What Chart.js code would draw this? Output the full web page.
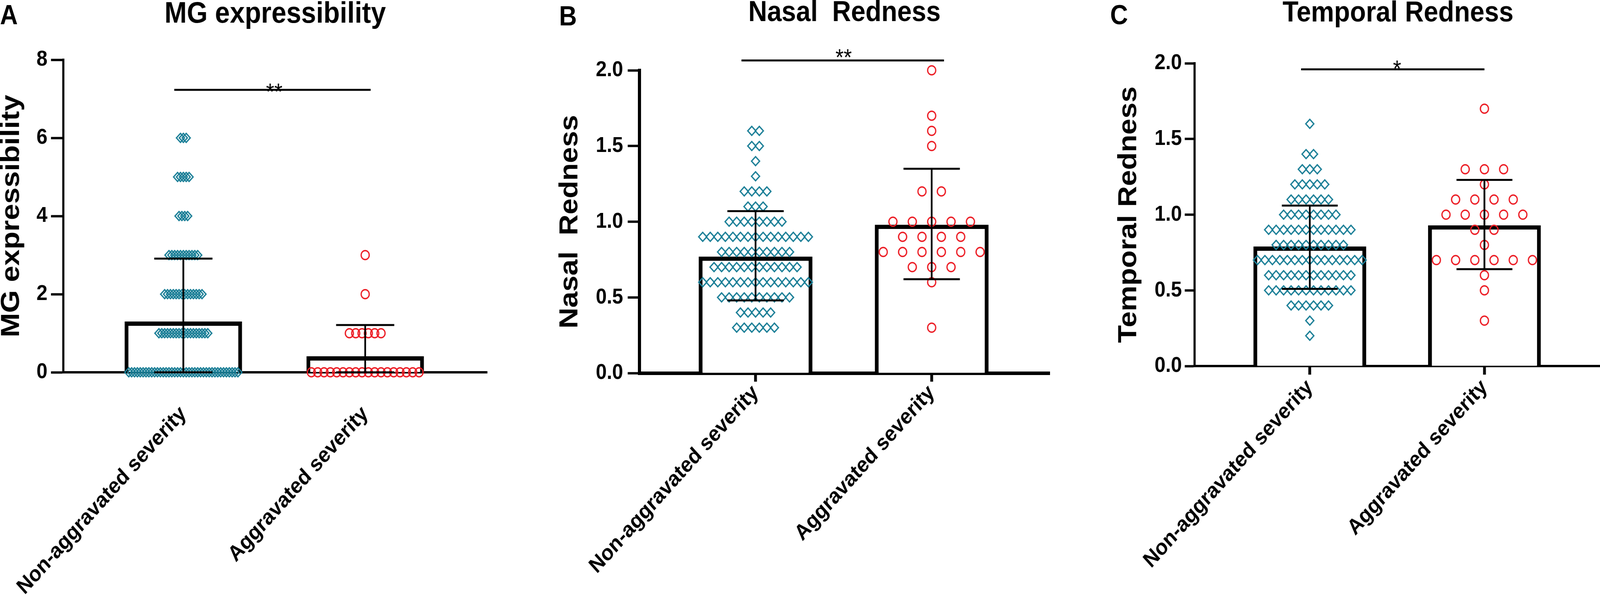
<!DOCTYPE html>
<html>
<head>
<meta charset="utf-8">
<title>Severity comparison</title>
<script src="https://cdn.jsdelivr.net/npm/chart.js@4.4.1/dist/chart.umd.min.js"></script>
<style>
  html, body { margin: 0; padding: 0; background: #fff; overflow: hidden; }
  #page { position: relative; width: 4550px; height: 1541px; transform-origin: 0 0; }
  #page canvas { position: absolute; top: 0; }
  .letter { position: absolute; font: bold 70px Arial, "Liberation Sans", sans-serif; line-height: 70px; color: #000; }
</style>
</head>
<body>
<div id="page">
  <div class="letter" style="left:0px;top:3px">A</div>
  <div class="letter" style="left:1590px;top:6px">B</div>
  <div class="letter" style="left:3157px;top:3px">C</div>
  <canvas id="chartA" width="1500" height="1541" style="left:0px;width:1500px;height:1541px"></canvas>
  <canvas id="chartB" width="1509" height="1541" style="left:1500px;width:1509px;height:1541px"></canvas>
  <canvas id="chartC" width="1560" height="1541" style="left:3009px;width:1560px;height:1541px"></canvas>
</div>
<script>
// the figure is laid out on a 4550 x 1541 sheet; squeeze it into whatever the window really is
const page = document.getElementById('page');
page.style.transform = 'scale(' + (window.innerWidth / 4550) + ',' + (window.innerHeight / 1541) + ')';

const categories = ['Non-aggravated severity', 'Aggravated severity'];

// A - MG expressibility: score levels and how many eyes sit on each level
const mgLevels = [0, 1, 2, 3, 4, 5, 6];
const mgNonCounts = [39, 18, 14, 11, 4, 5, 3];
const mgAggCounts = [18, 6, 1, 1, 0, 0, 0];
const mgMeans = [1.30, 0.41];
const mgErrLow = [0, 0];
const mgErrHigh = [2.91, 1.21];
const mgTicks = [0, 2, 4, 6, 8];

// B - nasal redness
const nasalLevels = [0.3, 0.4, 0.5, 0.6, 0.7, 0.8, 0.9, 1.0, 1.1, 1.2, 1.3, 1.4, 1.5, 1.6, 1.7, 2.0];
const nasalNonCounts = [6, 5, 10, 15, 12, 10, 15, 8, 3, 4, 1, 1, 2, 2, 0, 0];
const nasalAggCounts = [1, 0, 0, 1, 3, 6, 4, 5, 0, 2, 0, 0, 1, 1, 1, 1];
const nasalMeans = [0.77, 0.98];
const nasalErrLow = [0.48, 0.62];
const nasalErrHigh = [1.07, 1.35];

// C - temporal redness
const tempLevels = [0.2, 0.3, 0.4, 0.5, 0.6, 0.7, 0.8, 0.9, 1.0, 1.1, 1.2, 1.3, 1.4, 1.5, 1.6, 1.7];
const tempNonCounts = [1, 1, 6, 12, 12, 15, 10, 12, 8, 6, 5, 3, 2, 0, 1, 0];
const tempAggCounts = [0, 1, 0, 1, 1, 6, 1, 2, 5, 4, 1, 3, 0, 0, 0, 1];
const tempMeans = [0.79, 0.93];
const tempErrLow = [0.51, 0.64];
const tempErrHigh = [1.06, 1.23];

const rednessTicks = [0, 0.5, 1.0, 1.5, 2.0];

// significance brackets: [from, to, level, label]
const mgSig = [-0.05, 1.03, 7.23, '**'];
const nasalSig = [-0.08, 1.07, 2.065, '**'];
const tempSig = [-0.05, 1.0, 1.96, '*'];

const TEAL = '#1b7f97';
const RED = '#ec1c24';
const FONT = 'Arial, "Liberation Sans", sans-serif';
const BAR_PCT = 0.646;
const CAP = 0.16;

// lay the points of one column out in rows, like a column scatter plot
function swarm(center, levels, counts, natural, markerW) {
  const nMax = Math.max(...counts);
  const step = nMax > 1 ? Math.min(natural, (BAR_PCT - markerW) / (nMax - 1)) : natural;
  const pts = [];
  levels.forEach((v, k) => {
    const n = counts[k];
    for (let i = 0; i < n; i++) {
      pts.push({ x: center + (i - (n - 1) / 2) * step, y: v });
    }
  });
  return pts;
}

function errorBar(center, lo, hi) {
  return [
    { x: center - CAP, y: hi }, { x: center + CAP, y: hi }, { x: center, y: null },
    { x: center, y: hi }, { x: center, y: lo }, { x: center, y: null },
    { x: center - CAP, y: lo }, { x: center + CAP, y: lo }
  ];
}

const sigStars = {
  id: 'sigStars',
  afterDatasetsDraw(chart, args, opts) {
    const { ctx } = chart;
    const px = chart.scales.x.getPixelForValue(0.5);
    const py = chart.scales.y.getPixelForValue(opts.level);
    ctx.save();
    ctx.font = '60px ' + FONT;
    ctx.fillStyle = '#000';
    ctx.textAlign = 'center';
    ctx.textBaseline = 'alphabetic';
    ctx.fillText(opts.text, px, py - opts.lift + 0.575 * 60);
    ctx.restore();
  }
};

function makeChart(id, p) {
  const lineDs = (data) => ({
    type: 'line', data, borderColor: '#000', borderWidth: 5,
    pointRadius: 0, fill: false, spanGaps: false, clip: false, order: 1
  });
  new Chart(document.getElementById(id), {
    type: 'bar',
    data: {
      datasets: [
        {
          type: 'bar',
          data: p.means.map((m, i) => ({ x: i, y: m })),
          backgroundColor: '#fff', borderColor: '#000', borderWidth: 11,
          barPercentage: BAR_PCT, categoryPercentage: 1, order: 3
        },
        {
          type: 'scatter',
          data: swarm(0, p.levels, p.nonCounts, 0.05, 0.046),
          pointStyle: 'rectRot', pointRadius: 11.5, pointBorderWidth: 3.5,
          pointBorderColor: TEAL, pointBackgroundColor: 'rgba(0,0,0,0)', clip: false, order: 2
        },
        {
          type: 'scatter',
          data: swarm(1, p.levels, p.aggCounts, 0.11, 0.054),
          pointStyle: 'circle', pointRadius: 11.5, pointBorderWidth: 3.5,
          pointBorderColor: RED, pointBackgroundColor: 'rgba(0,0,0,0)', clip: false, order: 2
        },
        lineDs(errorBar(0, p.errLow[0], p.errHigh[0])),
        lineDs(errorBar(1, p.errLow[1], p.errHigh[1])),
        lineDs([{ x: p.sig[0], y: p.sig[2] }, { x: p.sig[1], y: p.sig[2] }])
      ]
    },
    options: {
      responsive: false,
      animation: false,
      devicePixelRatio: 1,
      events: [],
      layout: { padding: { left: 0, right: p.padRight, top: 0, bottom: 0 } },
      plugins: {
        legend: { display: false },
        tooltip: { enabled: false },
        title: {
          display: true, text: p.title, color: '#000', fullSize: false,
          font: { family: FONT, size: p.titleSize, weight: 'bold', lineHeight: 0.9 },
          padding: { top: p.titleTop, bottom: p.titleBottom }
        },
        sigStars: { level: p.sig[2], text: p.sig[3], lift: p.starLift }
      },
      scales: {
        x: {
          type: 'linear', min: -0.66, max: 1.67, offset: false,
          afterBuildTicks: (s) => { s.ticks = [{ value: 0 }, { value: 1 }]; },
          afterFit: (s) => {
            s.height = p.xAxisHeight;
            s.paddingLeft = 0;
            s.paddingRight = 0;
          },
          ticks: {
            autoSkip: false, minRotation: 45, maxRotation: 45, padding: p.xLabelPad,
            color: '#000', font: { family: FONT, size: 56, weight: 'bold' },
            callback: (v) => categories[v]
          },
          grid: {
            drawOnChartArea: false, drawTicks: p.xTicks, offset: false,
            tickLength: 22, tickWidth: 8, tickColor: '#000'
          },
          border: { display: true, color: '#000', width: p.axisWidth }
        },
        y: {
          type: 'linear', min: 0, max: p.ticks[p.ticks.length - 1],
          afterBuildTicks: (s) => { s.ticks = p.ticks.map((v) => ({ value: v })); },
          afterFit: (s) => {
            s.width = p.yAxisWidth;
            s.paddingTop = 0;
            s.paddingBottom = 0;
          },
          ticks: {
            padding: p.yLabelPad, color: '#000',
            font: { family: FONT, size: 56, weight: 'bold' },
            callback: (v) => (p.decimals ? v.toFixed(1) : String(v))
          },
          grid: {
            drawOnChartArea: false, tickLength: p.yTickLen, tickWidth: 6, tickColor: '#000'
          },
          border: { display: true, color: '#000', width: p.axisWidth },
          title: {
            display: true, text: p.title, color: '#000',
            font: { family: FONT, size: p.yTitleSize, weight: 'bold', lineHeight: 0.88 },
            padding: { top: p.yTitlePad, bottom: 0 }
          }
        }
      }
    },
    plugins: [sigStars]
  });
}

makeChart('chartA', {
  title: 'MG expressibility', titleSize: 76, titleTop: 3, titleBottom: 81.6,
  levels: mgLevels, nonCounts: mgNonCounts, aggCounts: mgAggCounts,
  means: mgMeans, errLow: mgErrLow, errHigh: mgErrHigh, ticks: mgTicks, decimals: false,
  sig: mgSig, starLift: 10, axisWidth: 6,
  padRight: 115, yAxisWidth: 180, xAxisHeight: 588, yTitleSize: 75, yTitlePad: 0,
  yTickLen: 35, yLabelPad: 10, xTicks: false, xLabelPad: 74
});

makeChart('chartB', {
  title: 'Nasal  Redness', titleSize: 74, titleTop: 0, titleBottom: 113.4,
  levels: nasalLevels, nonCounts: nasalNonCounts, aggCounts: nasalAggCounts,
  means: nasalMeans, errLow: nasalErrLow, errHigh: nasalErrHigh, ticks: rednessTicks, decimals: true,
  sig: nasalSig, starLift: 22, axisWidth: 9,
  padRight: 24, yAxisWidth: 318, xAxisHeight: 586, yTitleSize: 74, yTitlePad: 89,
  yTickLen: 33, yLabelPad: 13, xTicks: true, xLabelPad: -4
});

makeChart('chartC', {
  title: 'Temporal Redness', titleSize: 74, titleTop: 1, titleBottom: 94.4,
  levels: tempLevels, nonCounts: tempNonCounts, aggCounts: tempAggCounts,
  means: tempMeans, errLow: tempErrLow, errHigh: tempErrHigh, ticks: rednessTicks, decimals: true,
  sig: tempSig, starLift: 16, axisWidth: 6,
  padRight: 7, yAxisWidth: 388, xAxisHeight: 604, yTitleSize: 74, yTitlePad: 169,
  yTickLen: 28, yLabelPad: 8, xTicks: true, xLabelPad: 0
});
</script>
</body>
</html>
